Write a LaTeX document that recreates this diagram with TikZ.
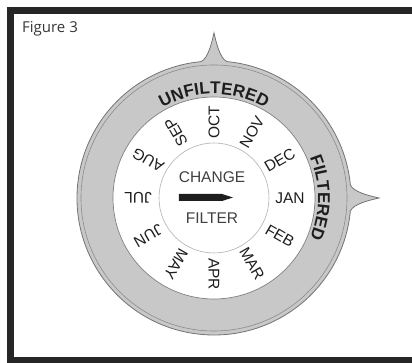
\documentclass[tikz,border=0pt]{standalone}
\usepackage{fontspec}
\setmainfont{Liberation Sans}
\newfontfamily\figfont{Open Sans}
\usetikzlibrary{decorations.text}
\definecolor{ringgray}{HTML}{C8C8C8}
\definecolor{framecol}{HTML}{262626}
\definecolor{inkcol}{HTML}{1E1E1E}
\begin{document}
\begin{tikzpicture}[x=1pt,y=1pt,
  month/.style={font=\fontsize{15.5}{15.5}\selectfont, text=inkcol, inner sep=0pt},
  centertext/.style={font=\fontsize{15.5}{15.5}\selectfont, text=inkcol!85, inner sep=0pt},
  arctext/.style={decorate, decoration={text along path, text align=center, text color=inkcol}}]
\useasboundingbox (-214,-165) rectangle (198,198);
\fill[white] (-214,-165) rectangle (198,198);
\draw[line width=7.5pt, draw=framecol] (-203.25,187.25) rectangle (205,-163);
\node[anchor=base west, font=\figfont\fontsize{15}{15}\selectfont, text=black!78, inner sep=0pt] (title) at (-192,165) {Figure 3};
% dial body with tabs
\draw[fill=ringgray, draw=black!55, line width=0.8pt]
  (95.5:137) .. controls (-6,139) and (-2,156) .. (0,165)
  .. controls (2,156) and (6,139) .. (84.5:137)
  arc[start angle=84.5, end angle=5.5, radius=137]
  .. controls (139,6) and (156,2) .. (165,0)
  .. controls (156,-2) and (139,-6) .. (-5.5:137)
  arc[start angle=-5.5, end angle=-264.5, radius=137] -- cycle;
\draw[black!45, line width=0.6pt] (0,0) circle[radius=133];
\draw[fill=white, draw=black!50, line width=0.7pt] (0,0) circle[radius=101];
\draw[black!30, line width=0.6pt] (0,0) circle[radius=55];
% months
\foreach \m [count=\i from 0] in {JAN,FEB,MAR,APR,MAY,JUN,JUL,AUG,SEP,OCT,NOV,DEC}
  \node[month, rotate={-30*\i}] (m\i) at ({-30*\i}:76) {\m};
% center
\node[centertext] (change) at (-2,21) {CHANGE};
\node[centertext] (filter) at (-2,-20) {FILTER};
\fill[inkcol] (-35,4) -- (8,4) -- (19,0.5) -- (8,-3) -- (-35,-3) -- cycle;
% arc labels
\path[arctext, decoration={text={|\fontsize{17}{17}\selectfont\bfseries|UNFILTERED}}]
  (140:104) arc[start angle=140, end angle=40, radius=104];
\path[arctext, decoration={text={|\fontsize{17}{17}\selectfont\bfseries|FILTERED}}]
  (50:104) arc[start angle=50, end angle=-50, radius=104];
\end{tikzpicture}
\end{document}
